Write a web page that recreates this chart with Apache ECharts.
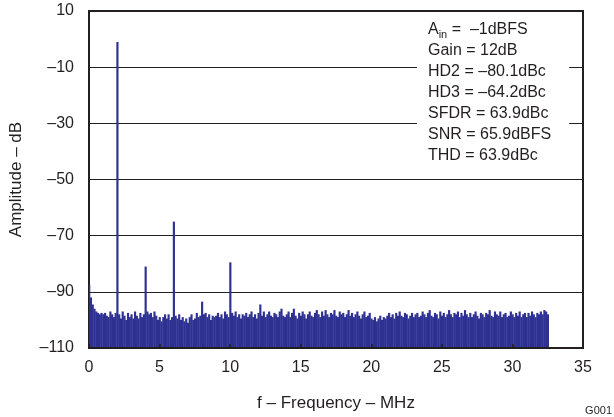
<!DOCTYPE html>
<html>
<head>
<meta charset="utf-8">
<script src="https://cdn.jsdelivr.net/npm/echarts@6/dist/echarts.min.js"></script>
<style>
  html, body { margin: 0; padding: 0; background: #fff; }
  #chart { width: 614px; height: 417px; }
</style>
</head>
<body>
<div id="chart"></div>
<script>
// FFT spectrum, one value per 0.125 MHz bin from 0 to 32.5 MHz
const binStep = 0.125;
const amplitude = [
  -87.5, -92, -94.5, -96, -97, -97.5, -98, -97.5,
  -98, -97.5, -98.5, -99, -97, -98, -99, -97.5,
  -1, -98, -99.5, -97, -98.5, -100, -97.5, -99,
  -98, -99.5, -97, -98.5, -99.5, -97.5, -99, -98,
  -81, -97, -98, -97.5, -99, -97, -98.5, -100,
  -99, -100.5, -99, -98, -99.5, -98, -100, -99,
  -65, -98.5, -99.5, -98, -100, -99, -100.5, -99.5,
  -101, -99, -98, -100, -99.5, -97.5, -99, -98.5,
  -93.5, -98, -97.5, -99, -98, -100, -98.5, -99,
  -98.5, -97.5, -99, -98, -99.5, -97, -98, -99,
  -79.5, -97.5, -98.5, -97, -99, -98, -99.5, -98,
  -98.5, -97.5, -99, -98, -97, -99, -98, -99.5,
  -97.5, -94.5, -98.5, -97, -99, -98, -97, -98.5,
  -99, -97.5, -98, -99, -97, -96, -98.5, -99,
  -98, -97, -99, -97.5, -96, -98.5, -99.5, -97.5,
  -98.5, -97, -98, -99.5, -98, -97, -98.5, -99,
  -97.5, -96.5, -98, -99, -97, -98.5, -96.5, -98,
  -99, -97.5, -98, -96.5, -98.5, -99, -97, -98,
  -97.5, -99, -98, -96.5, -98.5, -97.5, -99, -98,
  -97, -98.5, -99.5, -98, -97, -99, -98.5, -97.5,
  -99.5, -100, -99, -100.5, -99.5, -98.5, -100, -99,
  -99.5, -98.5, -97.5, -99, -98, -99.5, -97.5, -98.5,
  -97, -98.5, -99, -97.5, -98, -99.5, -98.5, -97.5,
  -99, -98, -97.5, -99, -98.5, -97, -98, -99,
  -97.5, -96.5, -98.5, -99, -97.5, -98, -99.5, -97,
  -98.5, -97.5, -99, -98, -96.5, -98, -99, -97.5,
  -98, -97, -99, -97.5, -98.5, -96.5, -98, -99,
  -97.5, -99, -98, -97, -98.5, -99.5, -97.5, -98,
  -99, -97.5, -98, -96.5, -98.5, -99, -97, -98,
  -98.5, -97, -99, -98, -97.5, -99, -98.5, -97,
  -98, -99, -97.5, -98.5, -97, -99, -98, -97.5,
  -99, -97.5, -98.5, -97, -98, -99, -97.5, -98,
  -97, -98, -96.5, -97, -98
];
const noteLines = [
  '{t|A}{s|in}{t| =  \u20131dBFS}',
  '{t|Gain = 12dB}',
  '{t|HD2 = \u201380.1dBc}',
  '{t|HD3 = \u201364.2dBc}',
  '{t|SFDR = 63.9dBc}',
  '{t|SNR = 65.9dBFS}',
  '{t|THD = 63.9dBc}'
];

const ink = '#231f20';
const navy = '#2e3192';
const font = 'Liberation Sans, Arial, Helvetica, sans-serif';
const dash = v => String(v).replace('-', '\u2013');

// each FFT bin drawn as a filled column from the axis floor up to its level
function renderBin(params, api) {
  const f = api.value(0);
  const floor = api.coord([f - binStep / 2, -110]);
  const top = api.coord([f + binStep / 2, api.value(1)]);
  return {
    type: 'rect',
    shape: { x: floor[0], y: top[1], width: top[0] - floor[0] + 0.4, height: floor[1] - top[1] },
    style: { fill: navy }
  };
}

const chart = echarts.init(document.getElementById('chart'), null, { renderer: 'canvas' });
chart.setOption({
  animation: false,
  grid: {
    left: 88, right: 31, top: 11, bottom: 69,
    show: true, borderColor: ink, borderWidth: 2, backgroundColor: '#fff'
  },
  xAxis: {
    type: 'value',
    z: 5,
    min: 0, max: 35, interval: 5,
    name: 'f \u2013 Frequency \u2013 MHz',
    nameLocation: 'middle',
    nameGap: 47,
    nameTextStyle: { color: ink, fontSize: 17, fontFamily: font },
    axisLine: { onZero: false, lineStyle: { color: ink, width: 2 } },
    axisTick: { inside: true, length: 4, lineStyle: { color: ink, width: 1.5 } },
    axisLabel: { color: ink, fontSize: 16, fontFamily: font, margin: 12 },
    splitLine: { show: false }
  },
  yAxis: {
    type: 'value',
    min: -110, max: 10, interval: 20,
    name: 'Amplitude \u2013 dB',
    nameLocation: 'middle',
    nameGap: 64,
    nameTextStyle: { color: ink, fontSize: 17, fontFamily: font },
    axisLine: { lineStyle: { color: ink, width: 2 } },
    axisTick: { show: false },
    axisLabel: { color: ink, fontSize: 16, fontFamily: font, margin: 15, formatter: dash },
    splitLine: { lineStyle: { color: ink, width: 1 } }
  },
  graphic: [
    {
      type: 'text',
      left: 417, top: 17, z: 100,
      style: {
        text: noteLines.join('\n'),
        backgroundColor: '#fff',
        padding: [2, 18, 4, 11],
        rich: {
          t: { fontSize: 16, fontFamily: font, fill: ink, lineHeight: 21 },
          s: { fontSize: 11, fontFamily: font, fill: ink, lineHeight: 12, verticalAlign: 'bottom' }
        }
      }
    },
    {
      type: 'text',
      right: 2, top: 405,
      style: { text: 'G001', fontSize: 11, fontFamily: font, fill: ink }
    }
  ],
  series: [{
    type: 'custom',
    renderItem: renderBin,
    clip: true,
    encode: { x: 0, y: 1 },
    data: amplitude.map((v, i) => [i * binStep, v]),
    z: 1
  }]
});
</script>
</body>
</html>
